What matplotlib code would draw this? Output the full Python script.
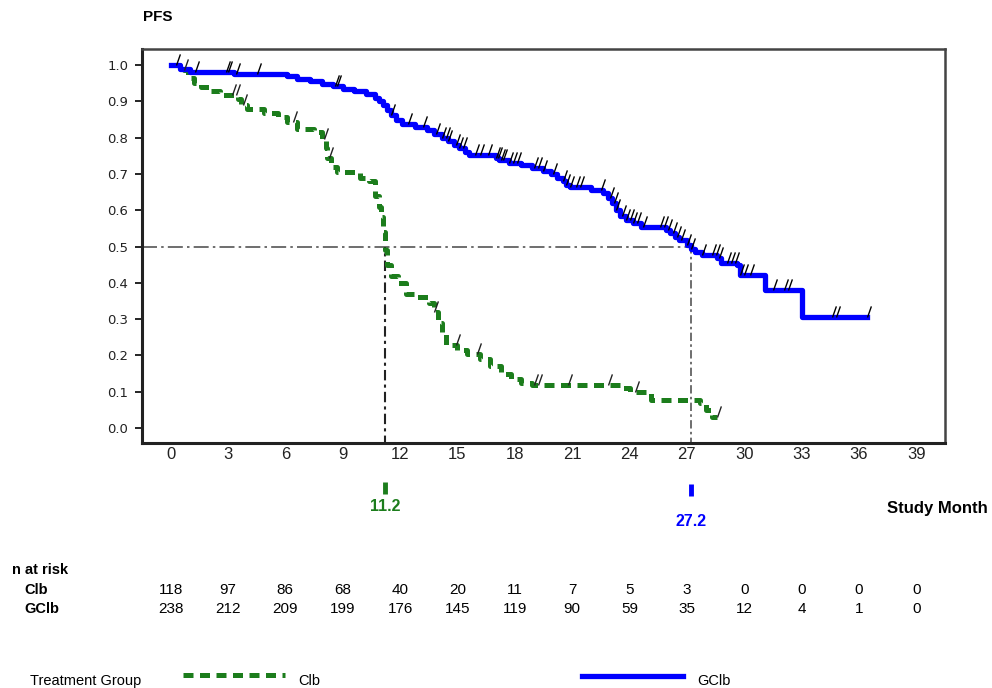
import numpy as np
import matplotlib
matplotlib.use("Agg")
from matplotlib import pyplot as plt
from matplotlib.path import Path
from matplotlib import transforms

# Kaplan-Meier steps: time of drop (months) and PFS after the drop
clb_time = [0, 0.7, 0.9, 1.2, 1.6, 2.1, 2.6, 3.5, 3.7, 4.0, 4.9, 5.6, 6.1, 6.6, 7.5, 7.9, 8.1, 8.2,
            8.4, 8.7, 9.9, 10.4, 10.7, 10.9, 11.0, 11.1, 11.2, 11.3, 11.5, 11.9, 12.3, 12.8, 13.5,
            13.8, 14.0, 14.2, 14.4, 15.0, 15.5, 16.2, 16.7, 17.3, 17.8, 18.3, 18.9, 23.6, 24.0,
            25.1, 27.7, 28.0, 28.3, 28.6]
clb_surv = [1.0, 0.985, 0.965, 0.95, 0.94, 0.928, 0.918, 0.905, 0.89, 0.878, 0.868, 0.857, 0.843,
            0.825, 0.815, 0.795, 0.77, 0.745, 0.72, 0.705, 0.69, 0.68, 0.64, 0.61, 0.58, 0.54, 0.49,
            0.45, 0.42, 0.40, 0.37, 0.36, 0.345, 0.32, 0.29, 0.26, 0.23, 0.215, 0.205, 0.19, 0.17,
            0.15, 0.135, 0.125, 0.12, 0.11, 0.10, 0.077, 0.07, 0.05, 0.03, 0.03]
clb_censor = [0.7, 3.2, 3.4, 3.8, 6.4, 8.0, 8.3, 13.8, 14.9, 16.0, 19.0, 19.2, 20.8, 22.9, 24.3, 28.6]

gclb_time = [0, 0.5, 1.0, 3.3, 6.1, 6.6, 7.3, 7.9, 8.5, 9.0, 9.6, 10.2, 10.7, 10.9, 11.1, 11.3,
             11.5, 11.8, 12.1, 12.8, 13.4, 13.8, 14.2, 14.5, 14.8, 15.1, 15.4, 15.6, 17.0, 17.2,
             17.7, 18.3, 18.9, 19.5, 19.9, 20.2, 20.5, 20.7, 20.9, 22.0, 22.6, 22.9, 23.1, 23.3,
             23.5, 23.8, 24.2, 24.6, 25.9, 26.1, 26.4, 26.6, 27.0, 27.2, 27.4, 27.8, 28.6, 28.8,
             29.6, 29.8, 31.1, 33.0, 36.4]
gclb_surv = [1.0, 0.99, 0.98, 0.975, 0.97, 0.96, 0.955, 0.948, 0.942, 0.935, 0.928, 0.92, 0.91,
             0.90, 0.89, 0.875, 0.862, 0.848, 0.837, 0.83, 0.82, 0.81, 0.80, 0.79, 0.78, 0.77,
             0.76, 0.752, 0.745, 0.738, 0.73, 0.724, 0.717, 0.709, 0.70, 0.69, 0.68, 0.67, 0.664,
             0.656, 0.647, 0.635, 0.62, 0.60, 0.585, 0.572, 0.565, 0.554, 0.546, 0.537, 0.527,
             0.518, 0.505, 0.494, 0.485, 0.477, 0.468, 0.455, 0.449, 0.421, 0.38, 0.306, 0.306]
gclb_censor = [0.3, 1.3, 2.9, 3.0, 3.4, 4.5, 8.6, 8.7, 11.5, 12.4, 13.2, 13.9, 14.2, 14.4, 14.5,
               14.9, 15.1, 15.3, 15.9, 16.2, 16.6, 17.0, 17.1, 17.3, 17.4, 17.7, 17.9, 18.1, 19.0,
               19.2, 19.5, 20.0, 20.5, 20.7, 20.9, 21.2, 21.4, 22.5, 23.0, 23.2, 23.3, 23.6, 23.8,
               24.0, 24.2, 24.4, 24.7, 25.6, 25.8, 26.0, 26.3, 26.5, 26.7, 27.0, 27.2, 27.8, 28.3,
               28.5, 28.7, 29.1, 29.3, 29.5, 29.8, 30.0, 30.3, 31.5, 32.1, 32.3, 34.6, 34.8, 36.4]

months = [0, 3, 6, 9, 12, 15, 18, 21, 24, 27, 30, 33, 36, 39]
risk_clb = [118, 97, 86, 68, 40, 20, 11, 7, 5, 3, 0, 0, 0, 0]
risk_gclb = [238, 212, 209, 199, 176, 145, 119, 90, 59, 35, 12, 4, 1, 0]
median_clb = 11.2
median_gclb = 27.2

GREEN = "#1c7d1c"
BLUE = "#0000ff"
NARROW = ["Liberation Sans Narrow", "Liberation Sans", "DejaVu Sans"]


def surv_at(times, surv, t):
    i = np.searchsorted(times, t, side="right") - 1
    return np.asarray(surv)[np.clip(i, 0, len(surv) - 1)]


fig = plt.figure(figsize=(9.92, 6.88), dpi=100)
ax = fig.add_axes([0.1431, 0.3561, 0.8095, 0.5727])
ax.set_xlim(-1.5, 40.5)
ax.set_ylim(-0.041, 1.044)

# median reference lines
ax.plot([-1.5, median_gclb], [0.5, 0.5], color="#555555", lw=1.2, dashes=(9, 2.5, 1.5, 2.5))
ax.plot([median_clb, median_clb], [-0.05, 0.5], color="#222222", lw=1.5, dashes=(5, 2, 1.5, 2))
ax.plot([median_gclb, median_gclb], [-0.05, 0.5], color="#555555", lw=1.2, dashes=(5, 2, 1.5, 2))

ax.step(clb_time, clb_surv, where="post", color=GREEN, lw=3.6, dashes=(2.0, 1.3))
ax.step(gclb_time, gclb_surv, where="post", color=BLUE, lw=3.8)

# censoring ticks
slash = Path([(0, 0), (0.35, 1.0)])
ax.plot(clb_censor, surv_at(clb_time, clb_surv, clb_censor), ls="none", marker=slash,
        ms=16, mec="#222222", mew=1.0, mfc="none")
ax.plot(gclb_censor, surv_at(gclb_time, gclb_surv, gclb_censor), ls="none", marker=slash,
        ms=16, mec="black", mew=1.0, mfc="none")

ax.set_yticks(np.arange(0, 1.01, 0.1))
ax.set_yticklabels([f"{v:.1f}" for v in np.arange(0, 1.01, 0.1)], family="DejaVu Sans",
                   fontsize=9.5, color="#222222")
ax.set_xticks(months)
ax.set_xticklabels([str(m) for m in months], family=NARROW, fontsize=12, color="#222222")
ax.tick_params(axis="x", length=0, pad=3)
ax.tick_params(axis="y", length=5, width=1.2, direction="out", pad=5)
for side in ["left", "bottom"]:
    ax.spines[side].set_linewidth(2.2)
    ax.spines[side].set_color("#222222")
for side in ["top", "right"]:
    ax.spines[side].set_linewidth(1.8)
    ax.spines[side].set_color("#444444")

fig.text(0.1441, 0.975, "PFS", family=NARROW, fontsize=11, fontweight="bold", va="center")

# medians marked below the axis
tr = transforms.blended_transform_factory(ax.transData, ax.transAxes)
ax.plot([median_clb], [-0.114], transform=tr, marker="|", ms=8, mew=3.5, color=GREEN,
        clip_on=False)
ax.text(median_clb, -0.16, f"{median_clb}", transform=tr, color=GREEN, family=NARROW,
        fontsize=11.5, fontweight="bold", ha="center", va="center")
ax.plot([median_gclb], [-0.119], transform=tr, marker="|", ms=8, mew=3.5, color=BLUE,
        clip_on=False)
ax.text(median_gclb, -0.198, f"{median_gclb}", transform=tr, color=BLUE, family=NARROW,
        fontsize=11.5, fontweight="bold", ha="center", va="center")
fig.text(0.996, 1 - 508 / 688, "Study Month", family=NARROW, fontsize=12, fontweight="bold",
         ha="right", va="center")

# number at risk table
fig.text(0.012, 1 - 570 / 688, "n at risk", family=NARROW, fontsize=10.5, fontweight="bold",
         va="center")
fig.text(0.025, 1 - 590 / 688, "Clb", family=NARROW, fontsize=10.5, fontweight="bold",
         va="center")
fig.text(0.025, 1 - 609 / 688, "GClb", family=NARROW, fontsize=10.5, fontweight="bold",
         va="center")
y_clb = (590 - 443) / 394
y_gclb = (609 - 443) / 394
for m, a, b in zip(months, risk_clb, risk_gclb):
    ax.text(m, -y_clb, str(a), transform=tr, family=NARROW, fontsize=11, ha="center",
            va="center", clip_on=False)
    ax.text(m, -y_gclb, str(b), transform=tr, family=NARROW, fontsize=11, ha="center",
            va="center", clip_on=False)

# legend row
fig.text(0.03, 1 - 681 / 688, "Treatment Group", family=NARROW, fontsize=10.5, va="center")
fig.add_artist(plt.Line2D([183 / 992, 285 / 992], [1 - 675 / 688] * 2, color=GREEN, lw=3.6,
                          dashes=(2.0, 1.3)))
fig.text(298 / 992, 1 - 681 / 688, "Clb", family=NARROW, fontsize=10.5, va="center")
fig.add_artist(plt.Line2D([582 / 992, 683 / 992], [1 - 676 / 688] * 2, color=BLUE, lw=3.8))
fig.text(697 / 992, 1 - 681 / 688, "GClb", family=NARROW, fontsize=10.5, va="center")

plt.savefig("out.png", dpi=100)
